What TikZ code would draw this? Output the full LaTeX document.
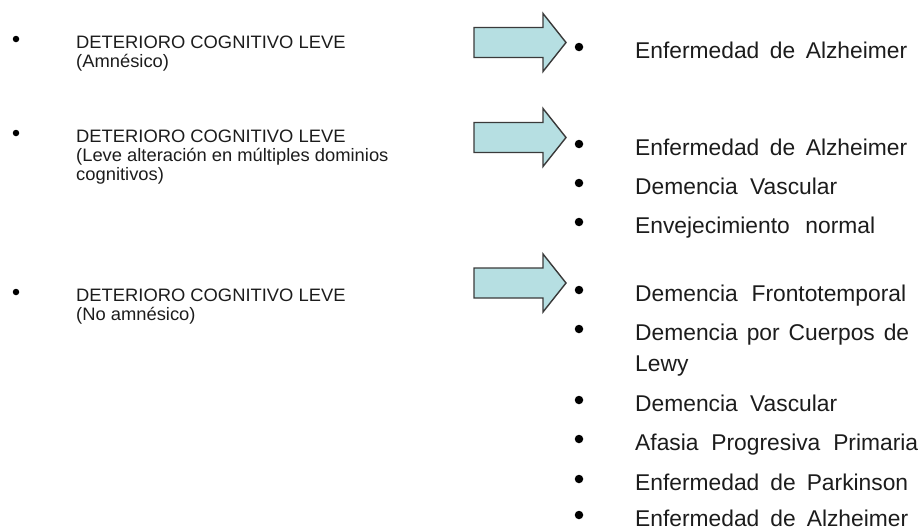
\documentclass[tikz,border=0pt]{standalone}
\usepackage{fontspec}
\setmainfont{Liberation Sans}
\newfontfamily\leftfont[FakeStretch=1.02]{Liberation Sans}
\definecolor{arrowfill}{HTML}{B6DFE2}
\definecolor{arrowline}{HTML}{3A3A3A}
\definecolor{txt}{HTML}{1C1C1C}
\tikzset{
  lefttext/.style={anchor=base west,inner sep=0pt,text=txt,font=\leftfont\fontsize{18}{19}\selectfont},
  righttext/.style={anchor=base west,inner sep=0pt,text=txt,font=\fontsize{22.8}{26}\selectfont},
  leftdot/.style={circle,fill=black,inner sep=0pt,minimum size=6.5pt},
  rightdot/.style={circle,fill=black,inner sep=0pt,minimum size=8.5pt},
  blockarrow/.style={draw=arrowline,fill=arrowfill,line width=1.4pt,line join=miter}
}
\newcommand\blkarrow[2]{% #1 name, #2 centre y
  \coordinate (#1) at (474,#2);
  \draw[blockarrow] (474,#2-15) -- (543,#2-15) -- (543,#2-29) -- (566,#2)
    -- (543,#2+29) -- (543,#2+15) -- (474,#2+15) -- cycle;
}
\begin{document}
\begin{tikzpicture}[x=1pt,y=-1pt]
\useasboundingbox (0,0) rectangle (919,530);

% left column
\node[leftdot] (lb1) at (16,39) {};
\node[lefttext] (l1a) at (76,48) {DETERIORO COGNITIVO LEVE};
\node[lefttext] (l1b) at (76,67) {(Amnésico)};

\node[leftdot] (lb2) at (16,133) {};
\node[lefttext] (l2a) at (76,142) {DETERIORO COGNITIVO LEVE};
\node[lefttext] (l2b) at (76,161) {(Leve alteración en múltiples dominios};
\node[lefttext] (l2c) at (76,180) {cognitivos)};

\node[leftdot] (lb3) at (16,292) {};
\node[lefttext] (l3a) at (76,301) {DETERIORO COGNITIVO LEVE};
\node[lefttext] (l3b) at (76,320) {(No amnésico)};

% arrows
\blkarrow{a1}{42.5}
\blkarrow{a2}{137.5}
\blkarrow{a3}{283}

% right column
\node[rightdot] (rb1) at (579,47) {};
\node[righttext] (r1) at (635,58) {\makebox[272pt][s]{Enfermedad de Alzheimer}};

\node[rightdot] (rb2) at (579,144) {};
\node[righttext] (r2) at (635,155) {\makebox[272pt][s]{Enfermedad de Alzheimer}};
\node[rightdot] (rb3) at (579,183) {};
\node[righttext] (r3) at (635,194) {\makebox[202pt][s]{Demencia Vascular}};
\node[rightdot] (rb4) at (579,222) {};
\node[righttext] (r4) at (635,233) {\makebox[240pt][s]{Envejecimiento normal}};

\node[rightdot] (rb5) at (579,290) {};
\node[righttext] (r5) at (635,301) {\makebox[271pt][s]{Demencia Frontotemporal}};
\node[rightdot] (rb6) at (579,329) {};
\node[righttext] (r6a) at (635,340) {\makebox[274pt][s]{Demencia por Cuerpos de}};
\node[righttext] (r6b) at (635,371) {Lewy};
\node[rightdot] (rb7) at (579,400) {};
\node[righttext] (r7) at (635,411) {\makebox[202pt][s]{Demencia Vascular}};
\node[rightdot] (rb8) at (579,439) {};
\node[righttext] (r8) at (635,450) {\makebox[283pt][s]{Afasia Progresiva Primaria}};
\node[rightdot] (rb9) at (579,479) {};
\node[righttext] (r9) at (635,490) {\makebox[273pt][s]{Enfermedad de Parkinson}};
\node[rightdot] (rb10) at (579,515) {};
\node[righttext] (r10) at (635,526) {\makebox[273pt][s]{Enfermedad de Alzheimer}};
\end{tikzpicture}
\end{document}
